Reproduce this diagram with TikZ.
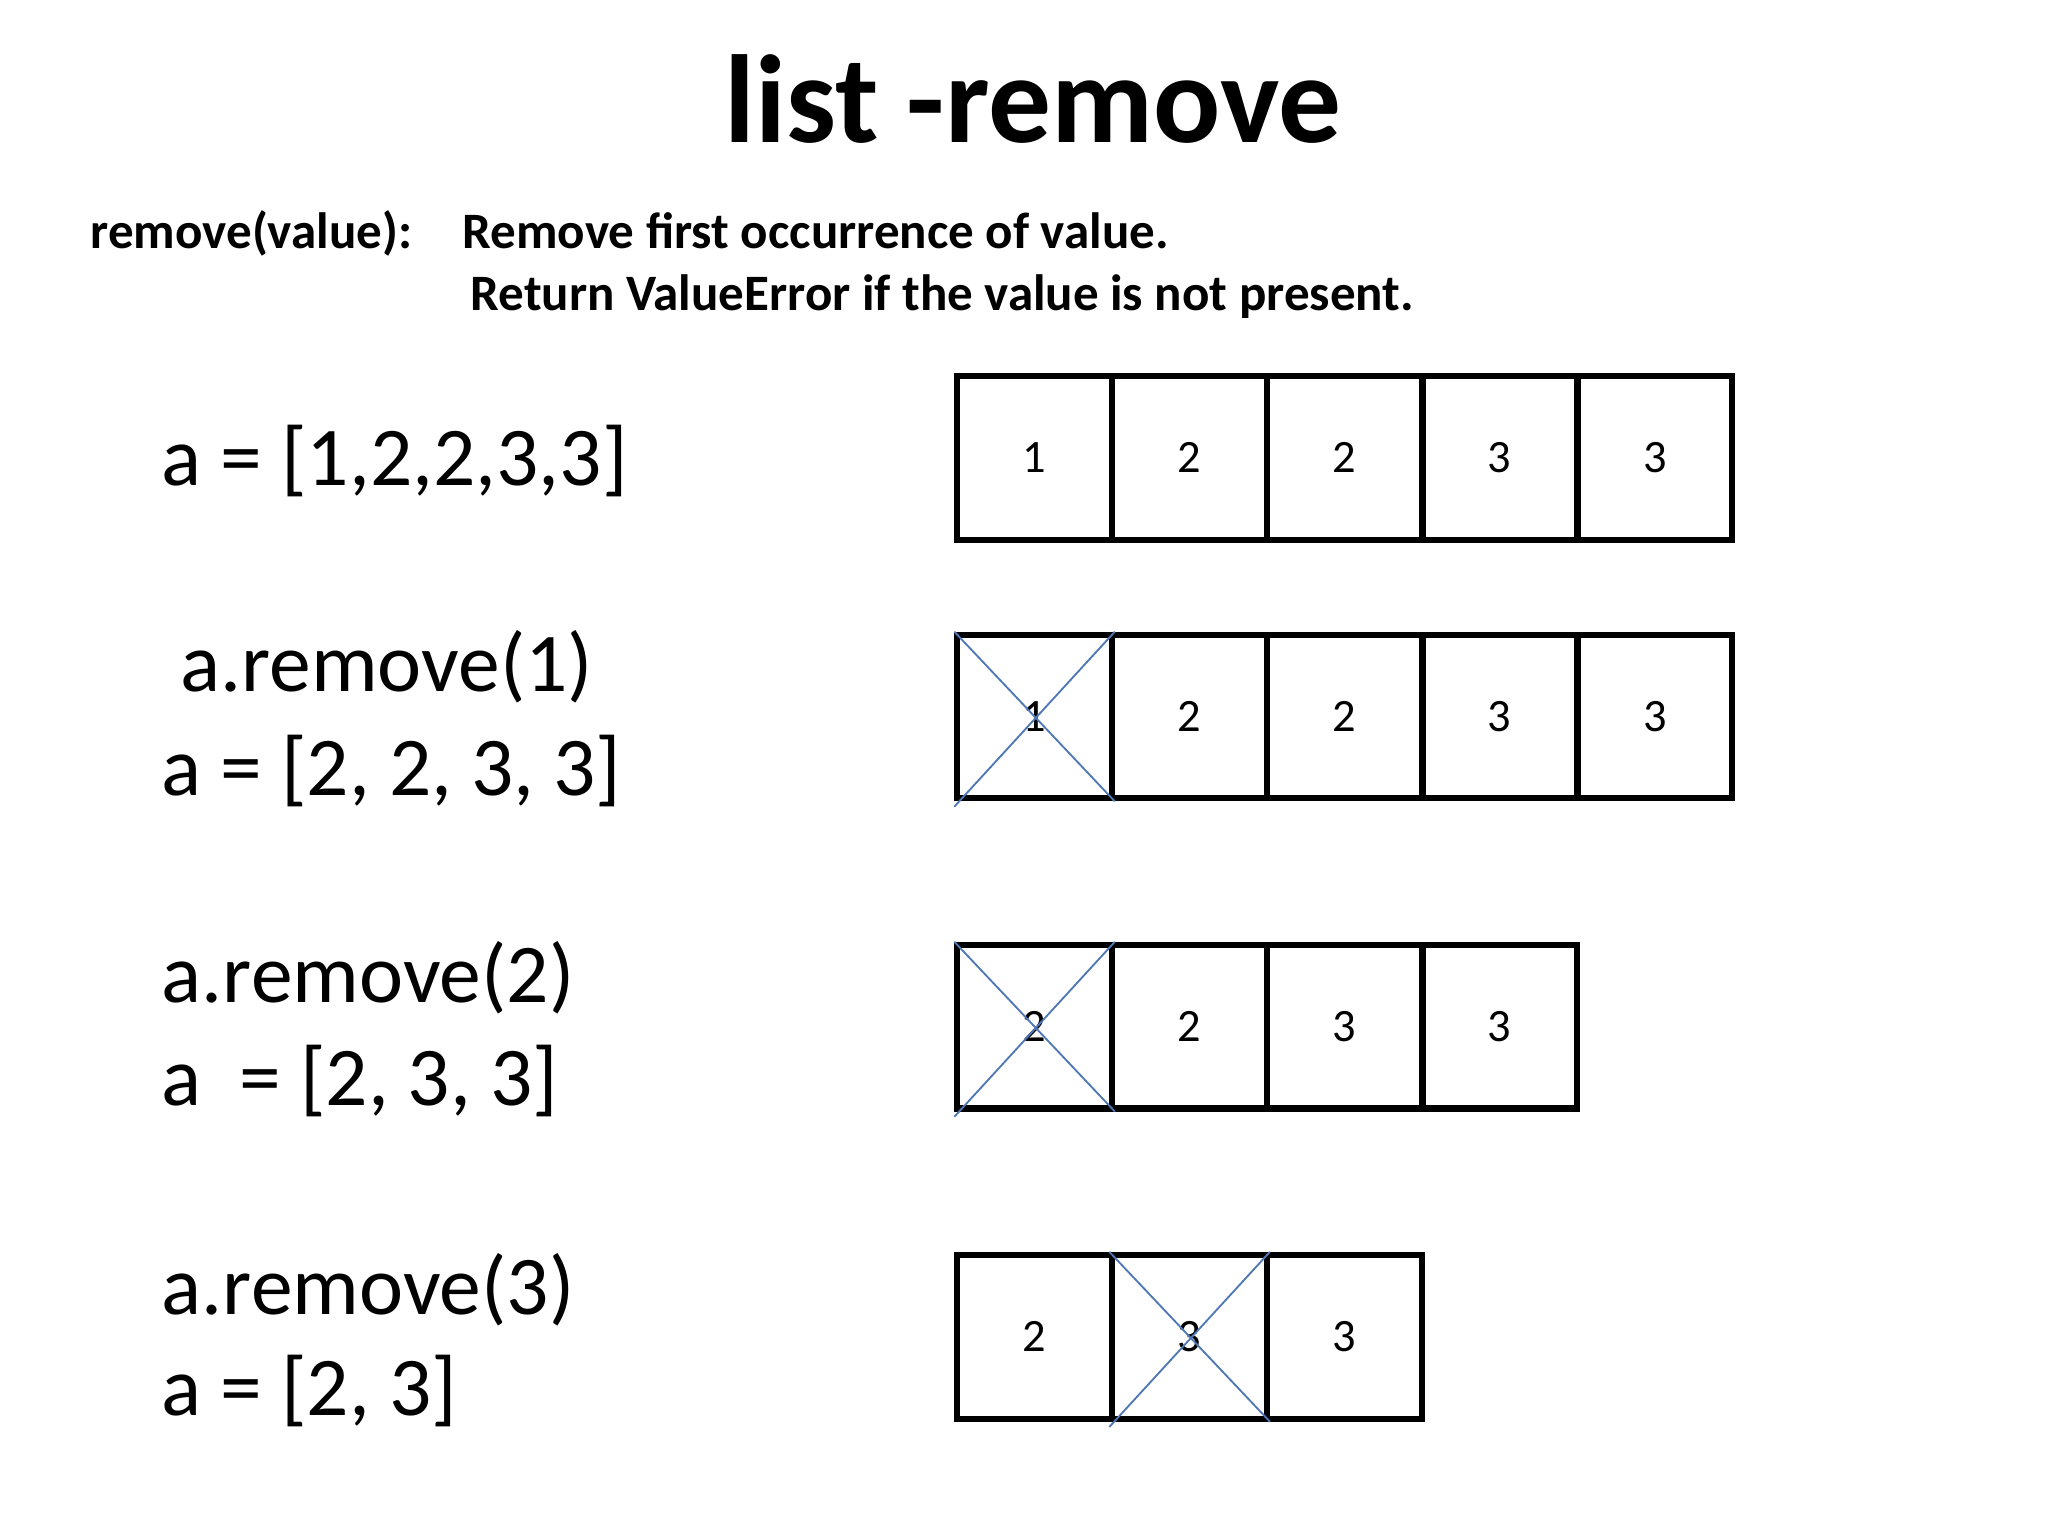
\documentclass[tikz,border=0pt]{standalone}
\usepackage{fontspec}
\setmainfont{Carlito}
\usepackage{tikz}

\definecolor{crossblue}{RGB}{80,120,180}
\tikzset{
  cellbox/.style={draw=black, line width=1.3pt, minimum width=1.17cm, minimum height=1.24cm, inner sep=0pt, font=\fontsize{10}{12}\selectfont},
  code/.style={anchor=base west, inner sep=0pt, font=\fontsize{18}{21}\selectfont},
  doc/.style={anchor=base west, inner sep=0pt, font=\bfseries\fontsize{11}{13}\selectfont},
  cross/.style={draw=crossblue, thin, solid}
}

\begin{document}
\begin{tikzpicture}[x=0.01cm, y=-0.01cm]
            \useasboundingbox (0,0) rectangle (1552,1164);
            \node[anchor=base, inner sep=0pt, font=\bfseries\fontsize{27}{32}\selectfont] (title) at (783,108) {list -remove};
            \node[doc] (sig) at (68,188) {remove(value):};
            \node[doc] (doca) at (350,188) {Remove first occurrence of value.};
            \node[doc] (docb) at (356,235) {Return ValueError if the value is not present.};
            % left column
            \node[code] (l1) at (122,368) {a = [1,2,2,3,3]};
            \node[code] (c2) at (136,524) {a.remove(1)};
            \node[code] (l2) at (122,603) {a = [2, 2, 3, 3]};
            \node[code] (c3) at (122,760) {a.remove(2)};
            \node[code] (l3) at (122,838) {a \ = [2, 3, 3]};
            \node[code] (c4) at (122,996) {a.remove(3)};
            \node[code] (l4) at (122,1073) {a = [2, 3]};
            % rows of cells
            \foreach \v [count=\i] in {1,2,2,3,3}
              \node[cellbox] (ra\i) at (784+117.5*\i-117.5,347) {\v};
            \foreach \v [count=\i] in {1,2,2,3,3}
              \node[cellbox] (rb\i) at (784+117.5*\i-117.5,543) {\v};
            \foreach \v [count=\i] in {2,2,3,3}
              \node[cellbox] (rc\i) at (784+117.5*\i-117.5,778) {\v};
            \foreach \v [count=\i] in {2,3,3}
              \node[cellbox] (rd\i) at (784+117.5*\i-117.5,1013) {\v};
            % crosses
            \draw[cross] (rb1.north west) -- (rb1.south east);
            \draw[cross] (rb1.north east) -- ([shift={(0,4)}]rb1.south west);
            \draw[cross] (rc1.north west) -- (rc1.south east);
            \draw[cross] (rc1.north east) -- ([shift={(0,4)}]rc1.south west);
            \draw[cross] (rd2.north west) -- (rd2.south east);
            \draw[cross] (rd2.north east) -- ([shift={(0,4)}]rd2.south west);
\end{tikzpicture}
\end{document}
